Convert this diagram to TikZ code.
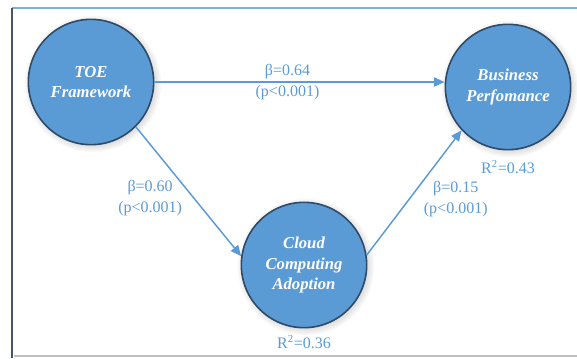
\documentclass[tikz,border=0pt]{standalone}
\usepackage{fontspec}
\setmainfont{Liberation Serif}
\usepackage{tikz}
\usetikzlibrary{arrows.meta,shadows}
\definecolor{cblue}{HTML}{5B9BD5}
\definecolor{cedge}{HTML}{2E4A66}
\definecolor{ctext}{HTML}{5B9BD5}
\definecolor{cframe}{HTML}{44546A}

\tikzset{
	construct/.style={circle, minimum size=94pt, inner sep=0pt, fill=cblue, draw=cedge, line width=1.2pt,
		text=white, align=center, font=\bfseries\itshape\fontsize{12.5}{15.5}\selectfont,
		circular drop shadow={shadow xshift=1pt, shadow yshift=-1pt, opacity=0.35}},
	path/.style={draw=cblue, line width=1.1pt, -{Triangle[length=8pt,width=7pt]}},
	coef/.style={text=ctext, align=center, font=\fontsize{12}{15.5}\selectfont},
}

\begin{document}
\begin{tikzpicture}[x=0.75pt, y=-0.75pt]
		%%%%% START %%%%%
		
		\useasboundingbox (0, 0) rectangle (577, 358);
		
		\draw[line width=0.8pt, color=black!25] (14, 356) -- (577, 356);
		\draw[line width=1pt, color=cblue!80] (12, 8) -- (577, 8);
		\draw[line width=2pt, color=cframe] (12, 8) -- (12, 358);
		
		\node[construct] (toe) at (91, 82) {TOE\\Framework};
		\node[construct] (bp) at (508, 87) {Business\\Perfomance};
		\node[construct] (cca) at (304, 265) {Cloud\\Computing\\Adoption};
		
		\node[coef, below=4pt] (r2bp) at (bp.south) {R\textsuperscript{2}=0.43};
		\node[coef, below=2pt] (r2cca) at (cca.south) {R\textsuperscript{2}=0.36};
		
		\draw[path] (toe) -- (toe -| bp.west)
			node[coef, midway, xshift=-9pt] (c1) {β=0.64\\(p<0.001)};
		\draw[path] (toe.-45) -- (cca.172)
			node[coef, pos=0.55, left=5pt] (c2) {β=0.60\\(p<0.001)};
		\draw[path] (cca.9) -- (bp.223)
			node[coef, pos=0.45, right=7pt] (c3) {β=0.15\\(p<0.001)};
		
		%%%%% END %%%%%
	\end{tikzpicture}
\end{document}
